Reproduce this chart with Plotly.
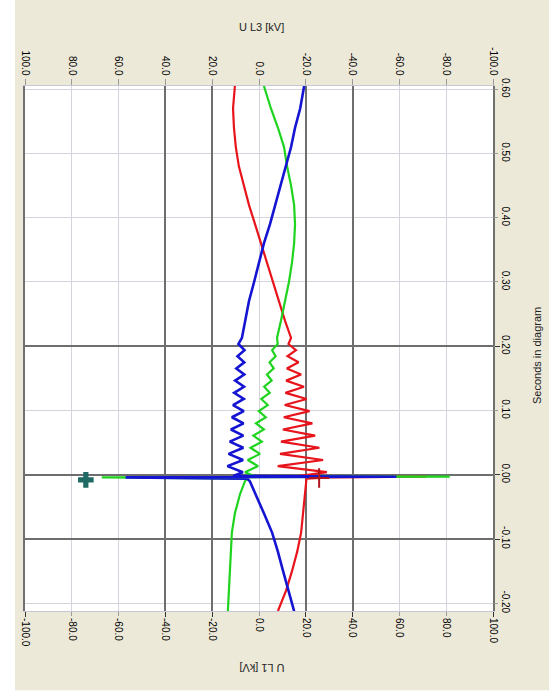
import plotly.graph_objects as go

# ---------------- data ----------------
# time in seconds relative to the trigger (vertical axis, increasing upward)
t = [-0.212, -0.18, -0.15, -0.12, -0.09, -0.06, -0.03, -0.01,
     -0.006, -0.004, -0.003, -0.002,
     0.004, 0.0135, 0.023, 0.0325, 0.042, 0.0515, 0.061, 0.0705, 0.080, 0.0895,
     0.099, 0.1085, 0.118, 0.1275, 0.137, 0.1465, 0.156, 0.1655, 0.175, 0.1845,
     0.194, 0.2035, 0.213,
     0.24, 0.27, 0.30, 0.33, 0.36, 0.39, 0.42, 0.45, 0.48, 0.51, 0.54, 0.57, 0.605]

u_red = [8.1, 11.6, 14.1, 16.3, 18.0, 18.8, 19.7, 20.1,
         20.3, 30.0, 71.5, 17.0,
         29.0, 8.0, 27.4, 9.0, 25.8, 9.4, 24.0, 10.2, 22.8, 10.6,
         21.6, 11.0, 20.4, 11.3, 19.2, 11.6, 18.0, 11.9, 16.9, 12.2,
         15.8, 12.6, 13.7,
         11.1, 8.6, 6.0, 3.4, 0.9, -1.7, -4.3, -6.4, -8.6, -9.9, -10.7, -11.1, -10.3]

u_green = [-13.3, -12.8, -12.4, -12.0, -11.6, -10.3, -8.1, -6.0,
           -5.1, -67.2, 81.5, -2.0,
           -6.0, -0.4, -4.8, 0.4, -3.6, 1.2, -2.4, 2.1, -1.3, 2.9,
           -0.1, 3.7, 1.0, 4.6, 2.2, 5.4, 3.4, 6.3, 4.5, 7.1,
           5.6, 8.0, 7.7,
           9.4, 11.1, 12.8, 14.1, 15.0, 15.4, 15.0, 13.7, 12.0, 10.7, 8.1, 5.1, 2.1]

u_blue = [15.0, 12.4, 10.3, 8.1, 5.6, 2.1, -1.3, -3.9,
          -5.1, -57.0, 58.7, -11.0,
          -6.9, -13.5, -6.8, -13.0, -6.7, -12.5, -6.7, -12.0, -6.6, -11.6,
          -6.5, -11.1, -6.5, -10.6, -6.4, -10.2, -6.3, -9.7, -6.3, -9.2,
          -6.2, -8.8, -7.3,
          -6.0, -4.3, -2.1, 0.0, 2.1, 4.7, 6.9, 9.4, 11.6, 13.7, 15.4, 17.6, 19.3]

# cursor markers
cursor_teal = {"u": [-74.0], "t": [-0.008]}
cursor_red = {"u": [25.7], "t": [-0.005]}

u_ticks = [-100, -80, -60, -40, -20, 0, 20, 40, 60, 80, 100]
u_major = [-100, -40, -20, 20, 40, 100]
t_ticks = [-0.2, -0.1, 0.0, 0.1, 0.2, 0.3, 0.4, 0.5, 0.6]
t_ticklabels = ["-0.20", "-0.10", "0.00", "0.10", "0.20", "0.30", "0.40", "0.50", "0.60"]
t_major = [-0.1, 0.0, 0.2]

# ---------------- figure ----------------
FONT = "Liberation Sans, Arial, sans-serif"
fig = go.Figure()

fig.add_trace(go.Scatter(x=u_red, y=t, mode="lines",
                         line=dict(color="#e8141c", width=2.2), showlegend=False, hoverinfo="skip"))
fig.add_trace(go.Scatter(x=u_green, y=t, mode="lines",
                         line=dict(color="#1ed41e", width=2.2), showlegend=False, hoverinfo="skip"))
fig.add_trace(go.Scatter(x=u_blue, y=t, mode="lines",
                         line=dict(color="#1414d2", width=2.6), showlegend=False, hoverinfo="skip"))
fig.add_trace(go.Scatter(x=cursor_teal["u"], y=cursor_teal["t"], mode="markers",
                         marker=dict(symbol="cross", size=13, color="#1f6b63"),
                         showlegend=False, hoverinfo="skip"))
fig.add_trace(go.Scatter(x=cursor_red["u"], y=cursor_red["t"], mode="markers",
                         marker=dict(symbol="cross-thin", size=14,
                                     line=dict(color="#b0141c", width=2)),
                         showlegend=False, hoverinfo="skip"))
# helper traces so the overlay axes (top scale, darker grid) are drawn
fig.add_trace(go.Scatter(x=[None], y=[None], xaxis="x2", yaxis="y",
                         showlegend=False, hoverinfo="skip"))
fig.add_trace(go.Scatter(x=[None], y=[None], xaxis="x3", yaxis="y2",
                         showlegend=False, hoverinfo="skip"))

tickfont = dict(family=FONT, size=10, color="#000000")

fig.update_layout(
    width=549, height=699,
    margin=dict(l=25, r=56, t=86, b=88, autoexpand=False),
    paper_bgcolor="#ffffff",
    plot_bgcolor="rgba(0,0,0,0)",
    xaxis=dict(range=[-100, 100], tickvals=u_ticks,
               ticktext=[f"{v:.1f}" for v in u_ticks], tickangle=90,
               tickfont=tickfont, showgrid=True, gridcolor="#d4d4dc", gridwidth=1,
               zeroline=False, ticks="outside", ticklen=4, tickcolor="#9a9a9a",
               showline=False, fixedrange=True),
    xaxis2=dict(range=[100, -100], overlaying="x", side="top", anchor="y",
                tickvals=u_ticks, ticktext=[f"{v:.1f}" for v in u_ticks],
                tickangle=90, tickfont=tickfont, showgrid=False, zeroline=False,
                ticks="outside", ticklen=6, tickcolor="#9a9a9a", showline=False),
    xaxis3=dict(range=[-100, 100], overlaying="x", anchor="y", tickvals=u_major,
                showticklabels=False, showgrid=True, gridcolor="#6e6e6e", gridwidth=1.5,
                zeroline=False, ticks="outside", ticklen=5, tickcolor="#333333",
                showline=True, mirror=True, linecolor="#c8c8d4"),
    yaxis=dict(range=[-0.212, 0.605], side="right", tickvals=t_ticks,
               ticktext=t_ticklabels, tickangle=90, tickfont=tickfont,
               showgrid=True, gridcolor="#d4d4dc", gridwidth=1, zeroline=False,
               ticks="outside", ticklen=4, tickcolor="#9a9a9a", showline=False),
    yaxis2=dict(range=[-0.212, 0.605], overlaying="y", anchor="x", side="right",
                tickvals=t_major, showticklabels=False, showgrid=True,
                gridcolor="#6e6e6e", gridwidth=1.5, zeroline=False,
                ticks="outside", ticklen=5, tickcolor="#333333",
                showline=True, mirror=True, linecolor="#707070", linewidth=1.5),
    shapes=[
        dict(type="rect", xref="paper", yref="paper", x0=-0.0214, x1=1.2,
             y0=-0.151, y1=1.2, fillcolor="#ece9d8", line=dict(width=0), layer="below"),
        dict(type="rect", xref="paper", yref="paper", x0=0, x1=1, y0=0, y1=1,
             fillcolor="#ffffff", line=dict(width=0), layer="below"),
    ],
    annotations=[
        dict(text="U L3 [kV]", xref="paper", yref="paper", x=0.506, y=1.112,
             yanchor="middle", showarrow=False,
             font=dict(family=FONT, size=11, color="#222222")),
        dict(text="U L1 [kV]", xref="paper", yref="paper", x=0.506, y=-0.1086,
             yanchor="middle", textangle=180, showarrow=False,
             font=dict(family=FONT, size=11, color="#222222")),
        dict(text="Seconds in diagram", xref="paper", yref="paper", x=1.094, y=0.4876,
             xanchor="center", textangle=-90, showarrow=False,
             font=dict(family=FONT, size=11, color="#222222")),
    ],
)

fig.write_html("out.html")
